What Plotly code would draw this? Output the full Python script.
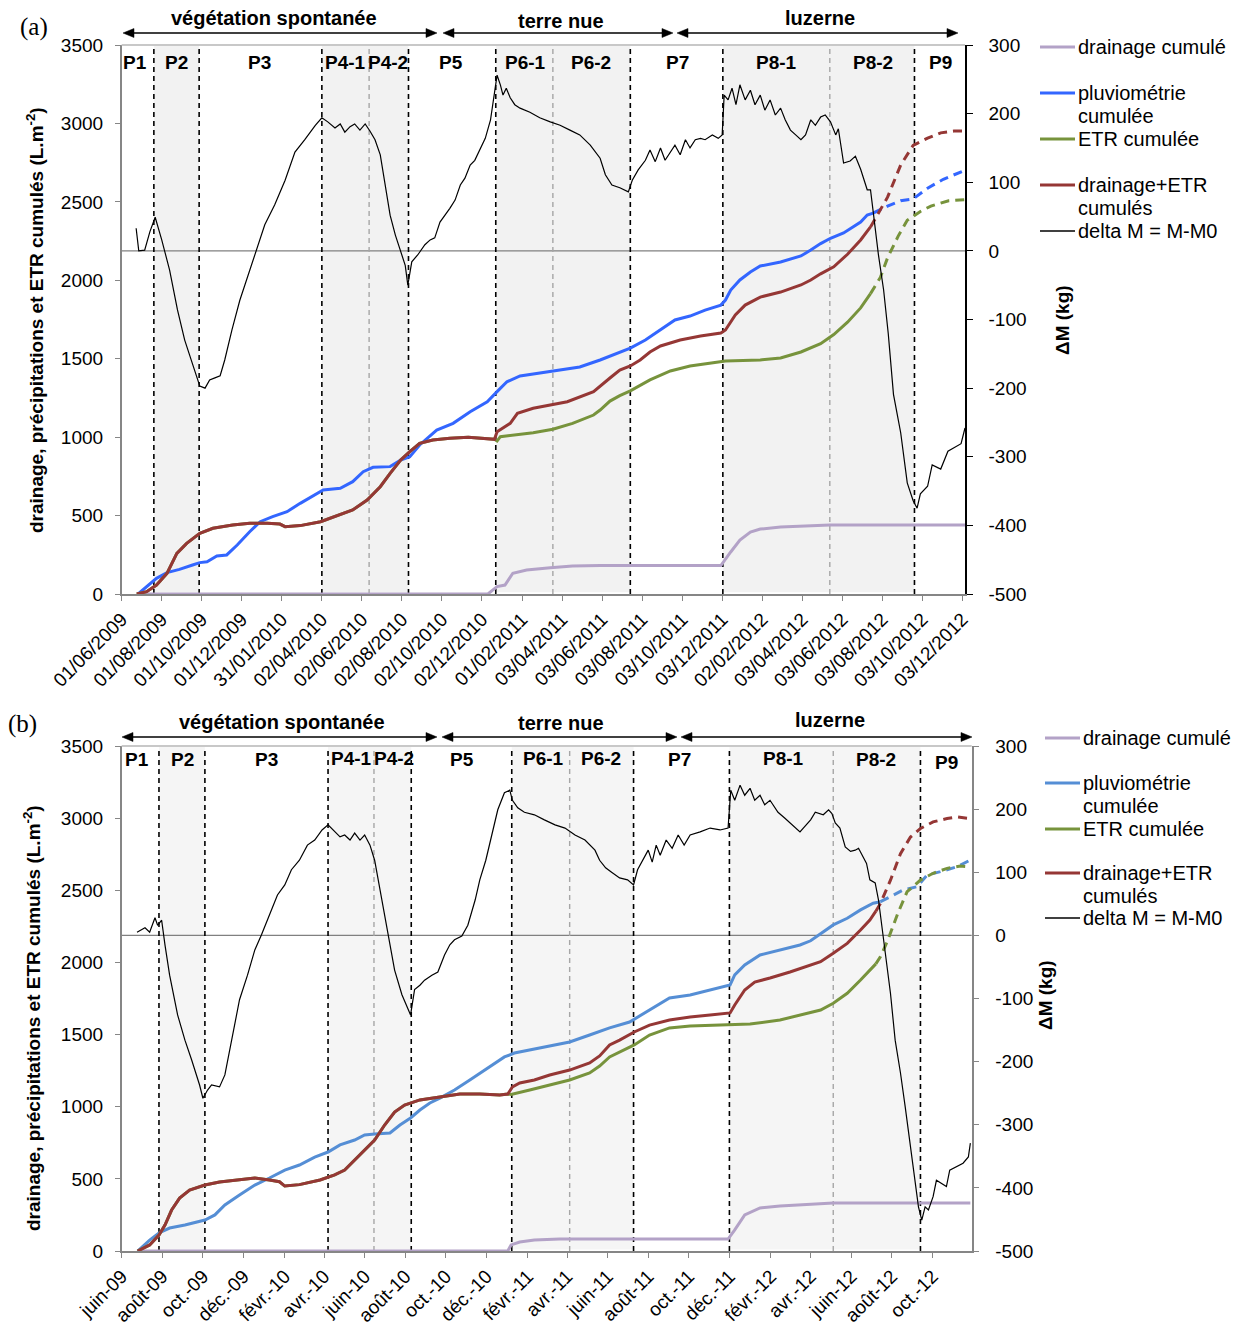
import plotly.graph_objects as go

# ============================ DATA : panel (a) ============================
A_TICKS = ['01/06/2009', '01/08/2009', '01/10/2009', '01/12/2009', '31/01/2010', '02/04/2010',
           '02/06/2010', '02/08/2010', '02/10/2010', '02/12/2010', '01/02/2011', '03/04/2011',
           '03/06/2011', '03/08/2011', '03/10/2011', '03/12/2011', '02/02/2012', '03/04/2012',
           '03/06/2012', '03/08/2012', '03/10/2012', '03/12/2012']

A_DM_DATES = ['2009-06-23', '2009-06-27', '2009-07-06', '2009-07-14', '2009-07-22', '2009-07-26', '2009-08-01',
              '2009-08-13', '2009-08-25', '2009-09-05', '2009-09-13', '2009-09-22', '2009-09-28', '2009-10-06',
              '2009-10-13', '2009-10-21', '2009-10-29', '2009-11-05', '2009-11-16', '2009-11-28', '2009-12-13',
              '2009-12-26', '2010-01-05', '2010-01-20', '2010-02-05', '2010-02-20', '2010-03-07', '2010-03-23',
              '2010-04-02', '2010-04-11', '2010-04-22', '2010-04-30', '2010-05-07', '2010-05-15', '2010-05-22',
              '2010-05-30', '2010-06-07', '2010-06-14', '2010-06-22', '2010-06-30', '2010-07-08', '2010-07-15',
              '2010-07-23', '2010-07-31', '2010-08-07', '2010-08-11', '2010-08-17', '2010-08-26', '2010-09-06',
              '2010-09-14', '2010-09-21', '2010-09-29', '2010-10-07', '2010-10-14', '2010-10-22', '2010-10-30',
              '2010-11-06', '2010-11-14', '2010-11-21', '2010-11-29', '2010-12-07', '2010-12-15', '2010-12-21',
              '2010-12-25', '2010-12-30', '2011-01-03', '2011-01-08', '2011-01-14', '2011-01-21', '2011-01-29',
              '2011-02-13', '2011-02-28', '2011-03-16', '2011-03-31', '2011-04-15', '2011-04-30', '2011-05-16',
              '2011-05-31', '2011-06-08', '2011-06-18', '2011-06-30', '2011-07-13', '2011-07-19', '2011-07-28',
              '2011-08-08', '2011-08-15', '2011-08-23', '2011-08-31', '2011-09-07', '2011-09-15', '2011-09-22',
              '2011-09-30', '2011-10-08', '2011-10-15', '2011-10-23', '2011-10-31', '2011-11-07', '2011-11-18',
              '2011-11-27', '2011-12-03', '2011-12-06', '2011-12-12', '2011-12-18', '2011-12-24', '2011-12-30',
              '2012-01-07', '2012-01-15', '2012-01-22', '2012-01-30', '2012-02-06', '2012-02-14', '2012-02-22',
              '2012-03-01', '2012-03-08', '2012-03-16', '2012-03-24', '2012-04-01', '2012-04-08', '2012-04-16',
              '2012-04-23', '2012-05-01', '2012-05-08', '2012-05-16', '2012-05-24', '2012-05-28', '2012-06-05',
              '2012-06-15', '2012-06-23', '2012-07-01', '2012-07-11', '2012-07-16', '2012-07-20', '2012-07-28',
              '2012-08-05', '2012-08-12', '2012-08-20', '2012-08-31', '2012-09-10', '2012-09-19', '2012-09-25',
              '2012-09-30', '2012-10-11', '2012-10-18', '2012-10-31', '2012-11-11', '2012-12-01', '2012-12-07']
A_DM = [33, 0, 1, 28, 49, 36, 16,
        -28, -86, -130, -153, -182, -197, -200,
        -188, -185, -182, -159, -115, -72, -28,
        9, 38, 67, 103, 144, 162, 183,
        194, 188, 179, 185, 173, 181, 185,
        176, 185, 175, 162, 140, 96, 52,
        23, 1, -21, -50, -16, -6, 9,
        16, 19, 42, 52, 62, 74, 96,
        106, 125, 132, 147, 164, 191, 234,
        256, 242, 227, 237, 223, 213, 208,
        202, 194, 188, 183, 176, 169, 154,
        135, 111, 96, 92, 86, 103, 118,
        132, 147, 130, 150, 132, 144, 154,
        140, 162, 150, 162, 164, 162, 169,
        164, 169, 227, 220, 237, 213, 242,
        220, 234, 213, 227, 205, 220, 198,
        208, 191, 176, 169, 162, 169, 191,
        183, 195, 198, 188, 169, 178, 128,
        131, 138, 119, 89, 89, 58, -5,
        -57, -120, -209, -265, -338, -364, -375,
        -354, -343, -312, -318, -292, -281, -258]

A_PLUIE_DATES = ['2009-06-26', '2009-07-14', '2009-07-24', '2009-08-09', '2009-08-28', '2009-09-17', '2009-09-28',
                 '2009-10-09', '2009-10-24', '2009-11-08', '2009-11-24', '2009-12-13', '2009-12-29', '2010-01-17',
                 '2010-02-08', '2010-02-28', '2010-03-26', '2010-04-04', '2010-04-30', '2010-05-19', '2010-06-04',
                 '2010-06-19', '2010-07-15', '2010-07-31', '2010-08-14', '2010-08-29', '2010-09-24', '2010-10-19',
                 '2010-11-14', '2010-12-10', '2010-12-25', '2011-01-09', '2011-01-29', '2011-02-28', '2011-03-31',
                 '2011-04-30', '2011-05-31', '2011-06-23', '2011-07-16', '2011-08-08', '2011-08-31', '2011-09-22',
                 '2011-10-15', '2011-11-07', '2011-12-01', '2011-12-08', '2011-12-16', '2011-12-30', '2012-01-15',
                 '2012-01-30', '2012-03-01', '2012-04-01', '2012-04-16', '2012-05-01', '2012-05-16', '2012-06-05',
                 '2012-07-01', '2012-07-11', '2012-07-20']
A_PLUIE = [0, 68, 100, 136, 157, 185, 200,
           206, 242, 249, 312, 397, 461, 493,
           525, 578, 642, 663, 674, 716, 780,
           808, 812, 854, 875, 950, 1045, 1088,
           1162, 1226, 1290, 1353, 1390, 1409, 1428,
           1447, 1492, 1530, 1568, 1619, 1683, 1747,
           1772, 1810, 1842, 1874, 1938, 2002, 2053,
           2091, 2117, 2155, 2193, 2234, 2268, 2302,
           2371, 2416, 2428]
A_PLUIE_EST_DATES = ['2012-07-20', '2012-08-11', '2012-08-31', '2012-09-19', '2012-10-11', '2012-11-04', '2012-12-06']
A_PLUIE_EST = [2428, 2473, 2507, 2519, 2587, 2644, 2700]

A_DE_DATES = ['2009-06-24', '2009-07-09', '2009-07-24', '2009-08-09', '2009-08-24', '2009-09-08', '2009-09-28',
              '2009-10-18', '2009-11-17', '2009-12-13', '2010-01-09', '2010-01-28', '2010-02-05', '2010-02-28',
              '2010-03-31', '2010-04-30', '2010-05-19', '2010-06-10', '2010-06-30', '2010-07-15', '2010-07-31',
              '2010-08-14', '2010-08-29', '2010-09-18', '2010-10-14', '2010-11-11', '2010-12-06', '2010-12-21',
              '2010-12-25', '2011-01-14', '2011-01-25', '2011-02-18', '2011-04-11', '2011-05-21', '2011-06-15',
              '2011-06-30', '2011-07-16', '2011-07-31', '2011-08-15', '2011-08-31', '2011-09-30', '2011-10-31',
              '2011-12-01', '2011-12-08', '2011-12-23', '2012-01-07', '2012-01-30', '2012-03-01', '2012-04-01',
              '2012-04-16', '2012-05-01', '2012-05-21', '2012-06-11', '2012-07-01', '2012-07-16']
A_DE = [0, 15, 57, 132, 259, 323, 387,
        419, 440, 451, 451, 446, 429, 436,
        461, 504, 536, 599, 684, 769, 854,
        907, 961, 982, 993, 999, 993, 986,
        1035, 1088, 1152, 1184, 1226, 1290, 1377,
        1428, 1454, 1492, 1543, 1581, 1619, 1645,
        1664, 1683, 1779, 1842, 1893, 1925, 1970,
        2002, 2041, 2086, 2166, 2257, 2340]
A_DE_EST_DATES = ['2012-07-16', '2012-08-11', '2012-08-31', '2012-09-19', '2012-10-11', '2012-10-31', '2012-11-20', '2012-12-06']
A_DE_EST = [2340, 2530, 2735, 2860, 2906, 2940, 2951, 2951]

A_ETR_DATES = ['2009-06-24', '2009-07-09', '2009-07-24', '2009-08-09', '2009-08-24', '2009-09-08', '2009-09-28',
               '2009-10-18', '2009-11-17', '2009-12-13', '2010-01-09', '2010-01-28', '2010-02-05', '2010-02-28',
               '2010-03-31', '2010-04-30', '2010-05-19', '2010-06-10', '2010-06-30', '2010-07-15', '2010-07-31',
               '2010-08-14', '2010-08-29', '2010-09-18', '2010-10-14', '2010-11-11', '2010-12-06', '2010-12-21',
               '2010-12-25', '2010-12-30', '2011-02-18', '2011-03-20', '2011-04-19', '2011-05-21', '2011-05-31',
               '2011-06-15', '2011-06-30', '2011-07-16', '2011-08-15', '2011-09-15', '2011-10-15', '2011-11-15',
               '2011-12-08', '2012-01-30', '2012-03-01', '2012-04-01', '2012-04-16', '2012-05-01', '2012-05-21',
               '2012-06-11', '2012-07-01', '2012-07-16']
A_ETR = [0, 15, 57, 132, 259, 323, 387,
         419, 440, 451, 451, 446, 429, 436,
         461, 504, 536, 599, 684, 769, 854,
         907, 961, 982, 993, 999, 993, 986,
         975, 1003, 1028, 1050, 1088, 1141, 1173,
         1230, 1265, 1295, 1365, 1422, 1454, 1473,
         1485, 1492, 1505, 1543, 1568, 1596, 1654,
         1733, 1824, 1915]
A_ETR_EST_DATES = ['2012-07-16', '2012-07-31', '2012-08-11', '2012-08-27', '2012-09-10', '2012-09-30', '2012-10-16', '2012-11-12', '2012-12-06']
A_ETR_EST = [1915, 2018, 2143, 2280, 2382, 2439, 2473, 2507, 2514]

A_DRAIN_DATES = ['2009-06-24', '2010-12-11', '2010-12-25', '2011-01-06', '2011-01-18', '2011-02-08', '2011-03-16',
                 '2011-04-19', '2011-05-31', '2011-12-01', '2011-12-16', '2011-12-30', '2012-01-15', '2012-01-30',
                 '2012-03-01', '2012-04-01', '2012-05-15', '2012-12-07']
A_DRAIN = [0, 0, 47, 57, 132, 153, 168,
           178, 181, 181, 268, 344, 395, 414,
           427, 433, 440, 440]

A_BOUNDS = ['2009-07-20', '2009-09-27', '2010-04-02', '2010-08-12', '2010-12-23', '2011-07-16', '2011-12-04', '2012-09-21']
A_SUBBOUNDS = ['2010-06-13', '2011-03-20', '2012-05-15']

# ============================ DATA : panel (b) ============================
B_TICK_DATES = ['2009-06-01', '2009-08-01', '2009-10-01', '2009-12-01', '2010-02-01', '2010-04-01', '2010-06-01',
                '2010-08-01', '2010-10-01', '2010-12-01', '2011-02-01', '2011-04-01', '2011-06-01', '2011-08-01',
                '2011-10-01', '2011-12-01', '2012-02-01', '2012-04-01', '2012-06-01', '2012-08-01', '2012-10-01']
B_TICKS = ['juin-09', 'août-09', 'oct.-09', 'déc.-09', 'févr.-10', 'avr.-10', 'juin-10', 'août-10', 'oct.-10',
           'déc.-10', 'févr.-11', 'avr.-11', 'juin-11', 'août-11', 'oct.-11', 'déc.-11', 'févr.-12', 'avr.-12',
           'juin-12', 'août-12', 'oct.-12']

B_DM_DATES = ['2009-06-24', '2009-07-06', '2009-07-13', '2009-07-21', '2009-07-25', '2009-07-31', '2009-08-05',
              '2009-08-12', '2009-08-24', '2009-09-04', '2009-09-14', '2009-09-26', '2009-10-01', '2009-10-08',
              '2009-10-14', '2009-10-26', '2009-11-03', '2009-11-13', '2009-11-25', '2009-12-07', '2009-12-18',
              '2009-12-28', '2010-01-09', '2010-01-21', '2010-02-01', '2010-02-11', '2010-02-23', '2010-03-07',
              '2010-03-18', '2010-03-29', '2010-04-07', '2010-04-17', '2010-04-25', '2010-05-02', '2010-05-10',
              '2010-05-17', '2010-05-25', '2010-06-01', '2010-06-09', '2010-06-16', '2010-06-24', '2010-07-06',
              '2010-07-16', '2010-07-27', '2010-08-05', '2010-08-09', '2010-08-15', '2010-08-23', '2010-08-30',
              '2010-09-10', '2010-09-19', '2010-09-29', '2010-10-07', '2010-10-14', '2010-10-25', '2010-11-03',
              '2010-11-14', '2010-11-21', '2010-11-30', '2010-12-09', '2010-12-18', '2010-12-28', '2011-01-05',
              '2011-01-09', '2011-01-17', '2011-01-27', '2011-02-11', '2011-02-26', '2011-03-14', '2011-03-29',
              '2011-04-13', '2011-04-28', '2011-05-13', '2011-05-20', '2011-05-29', '2011-06-07', '2011-06-19',
              '2011-07-01', '2011-07-10', '2011-07-16', '2011-07-24', '2011-08-01', '2011-08-07', '2011-08-13',
              '2011-08-19', '2011-08-28', '2011-09-06', '2011-09-15', '2011-09-24', '2011-10-03', '2011-10-18',
              '2011-11-02', '2011-11-17', '2011-11-29', '2011-12-03', '2011-12-09', '2011-12-17', '2011-12-24',
              '2012-01-01', '2012-01-08', '2012-01-16', '2012-01-23', '2012-01-31', '2012-02-12', '2012-02-22',
              '2012-03-04', '2012-03-16', '2012-04-01', '2012-04-08', '2012-04-20', '2012-04-28', '2012-05-03',
              '2012-05-08', '2012-05-15', '2012-05-23', '2012-05-31', '2012-06-07', '2012-06-12', '2012-06-17',
              '2012-06-24', '2012-06-29', '2012-07-07', '2012-07-12', '2012-07-17', '2012-07-22', '2012-07-30',
              '2012-08-06', '2012-08-14', '2012-08-21', '2012-08-29', '2012-09-05', '2012-09-10', '2012-09-15',
              '2012-09-20', '2012-09-25', '2012-10-02', '2012-10-07', '2012-10-15', '2012-10-22', '2012-10-27',
              '2012-11-06', '2012-11-16', '2012-11-24', '2012-11-27']
B_DM = [5, 12, 5, 28, 16, 24, -15,
        -63, -126, -166, -197, -237, -258, -245,
        -237, -240, -221, -166, -102, -63, -23,
        1, 32, 64, 80, 104, 119, 143,
        151, 167, 175, 164, 156, 159, 151,
        162, 151, 159, 143, 119, 72, 1,
        -55, -94, -118, -126, -86, -79, -71,
        -63, -58, -31, -15, -7, -1, 16,
        56, 88, 119, 159, 199, 226, 230,
        214, 202, 195, 191, 183, 175, 170,
        159, 151, 135, 119, 107, 100, 91,
        88, 80, 104, 119, 135, 116, 143,
        127, 151, 138, 159, 143, 159, 164,
        170, 167, 170, 230, 214, 238, 222,
        233, 214, 222, 207, 214, 195, 186,
        175, 164, 183, 195, 191, 199, 193,
        178, 170, 140, 133, 135, 138, 127,
        114, 88, 83, 56, 14, -28, -92,
        -166, -218, -271, -335, -393, -430, -451,
        -430, -435, -414, -388, -393, -398, -372,
        -366, -361, -351, -329]

B_PLUIE_DATES = ['2009-06-25', '2009-07-13', '2009-07-27', '2009-08-12', '2009-09-04', '2009-10-04', '2009-10-19',
                 '2009-11-03', '2009-11-25', '2009-12-18', '2010-01-09', '2010-02-01', '2010-02-23', '2010-03-18',
                 '2010-04-07', '2010-04-25', '2010-05-17', '2010-06-01', '2010-06-16', '2010-07-09', '2010-07-24',
                 '2010-08-09', '2010-08-23', '2010-09-07', '2010-09-22', '2010-10-14', '2010-11-06', '2010-11-29',
                 '2010-12-14', '2010-12-28', '2011-01-12', '2011-02-04', '2011-03-06', '2011-04-05', '2011-05-05',
                 '2011-06-04', '2011-07-04', '2011-08-03', '2011-09-02', '2011-10-03', '2011-11-02', '2011-12-02',
                 '2011-12-09', '2011-12-24', '2012-01-16', '2012-02-15', '2012-03-16', '2012-04-01', '2012-04-16',
                 '2012-05-05', '2012-05-26', '2012-06-15', '2012-07-04', '2012-07-15']
B_PLUIE = [0, 76, 125, 159, 180, 215, 250,
           319, 388, 457, 506, 561, 596, 651,
           686, 735, 769, 804, 811, 818, 873,
           922, 977, 1026, 1060, 1116, 1185, 1254,
           1303, 1345, 1372, 1393, 1421, 1449, 1497,
           1546, 1587, 1670, 1754, 1774, 1809, 1844,
           1913, 1982, 2052, 2086, 2121, 2150, 2200,
           2260, 2306, 2364, 2410, 2421]
B_PLUIE_EST_DATES = ['2012-07-15', '2012-07-30', '2012-08-18', '2012-09-08', '2012-09-23', '2012-10-13', '2012-11-07', '2012-11-27']
B_PLUIE_EST = [2421, 2456, 2502, 2525, 2606, 2629, 2663, 2710]

B_DE_DATES = ['2009-06-25', '2009-07-13', '2009-07-27', '2009-08-05', '2009-08-15', '2009-08-27', '2009-09-11',
              '2009-10-04', '2009-10-26', '2009-11-25', '2009-12-18', '2010-01-09', '2010-01-24', '2010-02-01',
              '2010-02-23', '2010-03-26', '2010-04-17', '2010-05-02', '2010-05-17', '2010-06-01', '2010-06-16',
              '2010-07-01', '2010-07-16', '2010-07-31', '2010-08-23', '2010-09-22', '2010-10-22', '2010-11-21',
              '2010-12-21', '2011-01-02', '2011-01-09', '2011-01-20', '2011-02-11', '2011-03-06', '2011-04-05',
              '2011-05-05', '2011-05-20', '2011-06-04', '2011-06-19', '2011-07-11', '2011-08-03', '2011-09-02',
              '2011-10-03', '2011-11-02', '2011-12-02', '2011-12-09', '2011-12-24', '2012-01-08', '2012-01-31',
              '2012-03-01', '2012-04-01', '2012-04-16', '2012-05-05', '2012-05-26', '2012-06-15', '2012-06-29',
              '2012-07-08']
B_DE = [0, 42, 111, 180, 284, 367, 423,
        457, 478, 492, 506, 492, 480, 450,
        460, 492, 527, 561, 631, 700, 769,
        873, 963, 1012, 1047, 1067, 1088, 1088,
        1081, 1088, 1137, 1164, 1185, 1220, 1254,
        1303, 1352, 1428, 1462, 1518, 1566, 1601,
        1622, 1636, 1650, 1705, 1809, 1864, 1892,
        1934, 1982, 2005, 2063, 2132, 2225, 2294,
        2355]
B_DE_EST_DATES = ['2012-07-08', '2012-07-15', '2012-07-30', '2012-08-14', '2012-08-29', '2012-09-13', '2012-10-02',
                  '2012-10-23', '2012-11-07', '2012-11-27']
B_DE_EST = [2355, 2410, 2570, 2754, 2869, 2928, 2974, 2997, 3008, 2997]

B_ETR_DATES = ['2009-06-25', '2009-07-13', '2009-07-27', '2009-08-05', '2009-08-15', '2009-08-27', '2009-09-11',
               '2009-10-04', '2009-10-26', '2009-11-25', '2009-12-18', '2010-01-09', '2010-01-24', '2010-02-01',
               '2010-02-23', '2010-03-26', '2010-04-17', '2010-05-02', '2010-05-17', '2010-06-01', '2010-06-16',
               '2010-07-01', '2010-07-16', '2010-07-31', '2010-08-23', '2010-09-22', '2010-10-22', '2010-11-21',
               '2010-12-21', '2011-01-02', '2011-01-07', '2011-02-04', '2011-03-06', '2011-04-05', '2011-05-05',
               '2011-05-20', '2011-06-04', '2011-06-19', '2011-07-11', '2011-08-03', '2011-09-02', '2011-10-03',
               '2011-11-17', '2012-01-01', '2012-02-15', '2012-03-16', '2012-04-16', '2012-05-05', '2012-05-26',
               '2012-06-15', '2012-07-04', '2012-07-08']
B_ETR = [0, 42, 111, 180, 284, 367, 423,
         457, 478, 492, 506, 492, 480, 450,
         460, 492, 527, 561, 631, 700, 769,
         873, 963, 1012, 1047, 1067, 1088, 1088,
         1081, 1088, 1085, 1116, 1150, 1185, 1234,
         1282, 1345, 1379, 1428, 1497, 1546, 1559,
         1566, 1573, 1601, 1636, 1670, 1717, 1786,
         1878, 1970, 1990]
B_ETR_EST_DATES = ['2012-07-08', '2012-07-15', '2012-07-26', '2012-08-10', '2012-08-24', '2012-09-13', '2012-10-02',
                   '2012-10-23', '2012-11-12', '2012-11-27']
B_ETR_EST = [1990, 2040, 2155, 2340, 2490, 2571, 2618, 2652, 2668, 2663]

B_DRAIN_DATES = ['2009-06-25', '2011-01-02', '2011-01-07', '2011-01-20', '2011-02-11', '2011-03-21', '2011-11-29',
                 '2011-12-09', '2011-12-24', '2012-01-16', '2012-02-15', '2012-03-16', '2012-05-05', '2012-11-27']
B_DRAIN = [0, 0, 42, 62, 76, 83, 83,
           146, 250, 298, 312, 319, 333, 333]

B_BOUNDS = ['2009-07-27', '2009-10-04', '2010-04-07', '2010-08-10', '2011-01-08', '2011-07-10', '2011-12-01', '2012-09-13']
B_SUBBOUNDS = ['2010-06-15', '2011-04-05', '2012-05-05']

PERIODS = ['P1', 'P2', 'P3', 'P4-1', 'P4-2', 'P5', 'P6-1', 'P6-2', 'P7', 'P8-1', 'P8-2', 'P9']
PHASES = ['végétation spontanée', 'terre nue', 'luzerne']
LEGEND = [['drainage cumulé'], ['pluviométrie', 'cumulée'], ['ETR cumulée'], ['drainage+ETR', 'cumulés'], ['delta M = M-M0']]
LEFT_TICKS = [0, 500, 1000, 1500, 2000, 2500, 3000, 3500]
RIGHT_TICKS = [-500, -400, -300, -200, -100, 0, 100, 200, 300]

# ============================ STYLE / LAYOUT ============================
W, H = 1246, 1326
FONT = 'Liberation Sans, Arial, sans-serif'
C_DRAIN = '#B3A2C7'
C_ETR = '#77933C'
C_DE = '#953735'
C_PLUIE_A = '#3366FF'
C_PLUIE_B = '#558ED5'
DASH_EST = '9px,6px'


def xp(v):
    return v / W


def yp(v):
    return 1 - v / H


fig = go.Figure()


def line_trace(x, y, xa, ya, color, width=3, dash='solid'):
    fig.add_trace(go.Scatter(x=x, y=y, xaxis=xa, yaxis=ya, mode='lines', showlegend=False,
                             hoverinfo='skip', line=dict(color=color, width=width, dash=dash)))


def add_panel(xa, yl, yr, pal, d):
    line_trace(d['drain_x'], d['drain'], xa, yl, C_DRAIN)
    line_trace(d['pluie_x'], d['pluie'], xa, yl, pal)
    line_trace(d['pluie_ex'], d['pluie_e'], xa, yl, pal, dash=DASH_EST)
    line_trace(d['etr_x'], d['etr'], xa, yl, C_ETR)
    line_trace(d['etr_ex'], d['etr_e'], xa, yl, C_ETR, dash=DASH_EST)
    line_trace(d['de_x'], d['de'], xa, yl, C_DE)
    line_trace(d['de_ex'], d['de_e'], xa, yl, C_DE, dash=DASH_EST)
    line_trace(d['dm_x'], d['dm'], xa, yr, '#000000', width=1.2)


add_panel('x', 'y', 'y2', C_PLUIE_A, dict(
    drain_x=A_DRAIN_DATES, drain=A_DRAIN, pluie_x=A_PLUIE_DATES, pluie=A_PLUIE,
    pluie_ex=A_PLUIE_EST_DATES, pluie_e=A_PLUIE_EST, etr_x=A_ETR_DATES, etr=A_ETR,
    etr_ex=A_ETR_EST_DATES, etr_e=A_ETR_EST, de_x=A_DE_DATES, de=A_DE,
    de_ex=A_DE_EST_DATES, de_e=A_DE_EST, dm_x=A_DM_DATES, dm=A_DM))
add_panel('x2', 'y3', 'y4', C_PLUIE_B, dict(
    drain_x=B_DRAIN_DATES, drain=B_DRAIN, pluie_x=B_PLUIE_DATES, pluie=B_PLUIE,
    pluie_ex=B_PLUIE_EST_DATES, pluie_e=B_PLUIE_EST, etr_x=B_ETR_DATES, etr=B_ETR,
    etr_ex=B_ETR_EST_DATES, etr_e=B_ETR_EST, de_x=B_DE_DATES, de=B_DE,
    de_ex=B_DE_EST_DATES, de_e=B_DE_EST, dm_x=B_DM_DATES, dm=B_DM))

shapes = []
annotations = []


def panel_shapes(xref, yref, yrref, bounds, subs, shade):
    for i in range(0, len(bounds), 2):
        shapes.append(dict(type='rect', xref=xref, yref=yref + ' domain', x0=bounds[i], x1=bounds[i + 1],
                           y0=0.003, y1=1, fillcolor=shade, line=dict(width=0), layer='below'))
    shapes.append(dict(type='line', xref=xref + ' domain', yref=yrref, x0=0, x1=1, y0=0, y1=0,
                       line=dict(color='#808080', width=1.3), layer='below'))
    for b in bounds:
        shapes.append(dict(type='line', xref=xref, yref=yref + ' domain', x0=b, x1=b, y0=0, y1=1,
                           line=dict(color='#000000', width=1.6, dash='5px,4px'), layer='below'))
    for b in subs:
        shapes.append(dict(type='line', xref=xref, yref=yref + ' domain', x0=b, x1=b, y0=0, y1=1,
                           line=dict(color='#A6A6A6', width=1.4, dash='5px,4px'), layer='below'))
    shapes.append(dict(type='line', xref=xref + ' domain', yref=yref + ' domain', x0=0, x1=1, y0=1, y1=1,
                       line=dict(color='#C8C8C8', width=2)))


panel_shapes('x', 'y', 'y2', A_BOUNDS, A_SUBBOUNDS, '#F2F2F2')
panel_shapes('x2', 'y3', 'y4', B_BOUNDS, B_SUBBOUNDS, '#F5F5F5')


def text(x, y, s, size=19, bold=False, family=FONT, anchor='center', angle=0):
    annotations.append(dict(x=xp(x), y=yp(y), xref='paper', yref='paper', text=('<b>%s</b>' % s) if bold else s,
                            showarrow=False, xanchor=anchor, yanchor='middle', textangle=angle,
                            font=dict(family=family, size=size, color='#000000')))


def arrow(x0, x1, y):
    # double-headed arrow built from a line and two filled triangular heads (paper coordinates)
    hl, hw = 11, 4.5
    shapes.append(dict(type='line', xref='paper', yref='paper', x0=xp(x0 + 4), x1=xp(x1 - 4), y0=yp(y), y1=yp(y),
                       line=dict(color='#000000', width=1.6)))
    for tip, base in ((x0, x0 + hl), (x1, x1 - hl)):
        path = 'M %f,%f L %f,%f L %f,%f Z' % (xp(tip), yp(y), xp(base), yp(y - hw), xp(base), yp(y + hw))
        shapes.append(dict(type='path', xref='paper', yref='paper', path=path, fillcolor='#000000',
                           line=dict(color='#000000', width=0.5)))


# panel letters
text(34, 27, '(a)', size=25, family='Liberation Serif, Times New Roman, serif')
text(22, 724, '(b)', size=25, family='Liberation Serif, Times New Roman, serif')

# phases
for (x0, x1, cx, ty), s in zip([(123, 437, 274, 18), (443, 673, 561, 21), (677, 958, 820, 18)], PHASES):
    arrow(x0, x1, 33)
    text(cx, ty, s, size=20, bold=True)
for (x0, x1, cx, ty), s in zip([(122, 437, 282, 722), (442, 677, 561, 723), (681, 972, 830, 720)], PHASES):
    arrow(x0, x1, 737)
    text(cx, ty, s, size=20, bold=True)

# periods
for cx, s in zip([135, 176, 259, 345, 388, 451, 525, 591, 678, 776, 873, 940], PERIODS):
    text(cx, 62, s, size=19, bold=True)
for (cx, cy), s in zip([(137, 759), (182, 759), (266, 759), (351, 758), (394, 758), (462, 759), (543, 758),
                        (601, 758), (679, 759), (783, 758), (876, 759), (947, 763)], PERIODS):
    text(cx, cy, s, size=19, bold=True)

# axis titles
YT = 'drainage, précipitations et ETR cumulés (L.m<sup>-2</sup>)'
text(35, 320, YT, size=19, bold=True, angle=-90)
text(32, 1018, YT, size=19, bold=True, angle=-90)
text(1062, 320, 'ΔM (kg)', size=19, bold=True, angle=-90)
text(1045, 995, 'ΔM (kg)', size=19, bold=True, angle=-90)


# legends
def legend(lx0, lx1, ys, pal):
    cols = [C_DRAIN, pal, C_ETR, C_DE, '#000000']
    widths = [3, 3, 3, 3, 1.3]
    for lines, col, wd, yy in zip(LEGEND, cols, widths, ys):
        shapes.append(dict(type='line', xref='paper', yref='paper', x0=xp(lx0), x1=xp(lx1), y0=yp(yy), y1=yp(yy),
                           line=dict(color=col, width=wd)))
        for k, s in enumerate(lines):
            text(lx1 + 1, yy + 23 * k, s, size=20, anchor='left')


legend(1040, 1075, [47, 93, 139, 185, 231], C_PLUIE_A)
legend(1045, 1080, [738, 783, 829, 873, 918], C_PLUIE_B)

tickfont = dict(family=FONT, size=19, color='#000000')
AX = '#868686'


def xaxis(domain, anchor, rng, vals, texts):
    return dict(domain=domain, anchor=anchor, type='date', range=rng, tickmode='array', tickvals=vals,
                ticktext=texts, tickangle=-45, tickfont=tickfont, showgrid=False, zeroline=False,
                showline=True, linecolor=AX, linewidth=1.5, ticks='outside', ticklen=5, tickcolor=AX,
                automargin=False)


def yleft(domain, anchor):
    return dict(domain=domain, anchor=anchor, range=[0, 3500], tickmode='array', tickvals=LEFT_TICKS,
                ticktext=[str(v) for v in LEFT_TICKS], tickfont=tickfont, showgrid=False, zeroline=False,
                showline=True, linecolor=AX, linewidth=1.5, ticks='outside', ticklen=5, tickcolor=AX,
                ticklabelstandoff=8, automargin=False)


def yright(over, anchor, color):
    return dict(overlaying=over, anchor=anchor, side='right', range=[-500, 300], tickmode='array',
                tickvals=RIGHT_TICKS, ticktext=[str(v) for v in RIGHT_TICKS], tickfont=tickfont, showgrid=False,
                zeroline=False, showline=True, linecolor=color, linewidth=1.5, ticks='outside', ticklen=6,
                tickcolor=color, ticklabelstandoff=12, automargin=False)


A_TICK_DATES = [s[6:] + '-' + s[3:5] + '-' + s[:2] for s in A_TICKS]

fig.update_layout(
    width=W, height=H, margin=dict(l=0, r=0, t=0, b=0, autoexpand=False), paper_bgcolor='white',
    plot_bgcolor='white', font=dict(family=FONT, size=19, color='#000000'), showlegend=False,
    xaxis=xaxis([xp(121.7), xp(965)], 'y', ['2009-06-01', '2012-12-07'], A_TICK_DATES, A_TICKS),
    yaxis=yleft([yp(594), yp(45)], 'x'),
    yaxis2=yright('y', 'x', '#000000'),
    xaxis2=xaxis([xp(121.7), xp(971.7)], 'y3', ['2009-06-01', '2012-11-29'], B_TICK_DATES, B_TICKS),
    yaxis3=yleft([yp(1251), yp(746)], 'x2'),
    yaxis4=yright('y3', 'x2', AX),
    shapes=shapes, annotations=annotations,
)

# the page's default 8px body margin would shift the figure; remove it so the figure fills the window exactly
fig.write_html('out.html', config={'displayModeBar': False},
               post_script="document.body.style.margin='0px';document.body.style.overflow='hidden';")
